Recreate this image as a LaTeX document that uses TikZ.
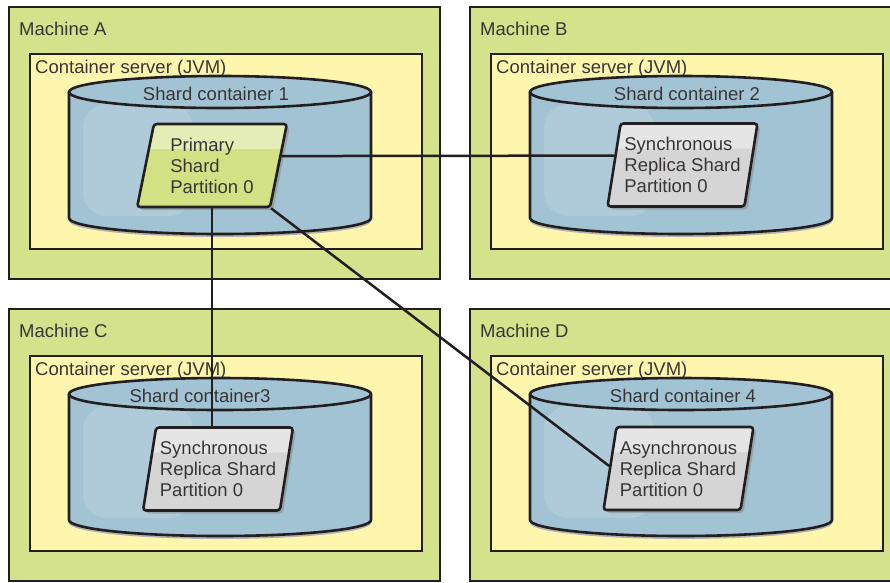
\documentclass[tikz,border=0pt]{standalone}
\usepackage{fontspec}
\setmainfont{Liberation Sans}
\usetikzlibrary{calc, shapes.geometric, shadows}
\definecolor{machinegreen}{HTML}{D3E28B}
\definecolor{serveryellow}{HTML}{FFF6AE}
\definecolor{cylblue}{HTML}{A2C3D4}
\definecolor{primgreen}{HTML}{D2E184}
\definecolor{replgray}{HTML}{D5D5D5}
\definecolor{edge}{HTML}{231F20}
\tikzset{
  machine/.style={draw=edge, fill=machinegreen, line width=2.8pt},
  server/.style={draw=edge, fill=serveryellow, line width=2.8pt},
  cyl/.style={draw=edge, fill=cylblue, line width=2.6pt},
  lbl/.style={font=\fontsize{18.5}{21}\selectfont, text=edge!90, inner sep=0pt},
  shard/.style={trapezium, trapezium left angle=78, trapezium right angle=102,
    trapezium stretches=true, minimum width=150pt, minimum height=83pt,
    draw=edge, line width=2.6pt, rounded corners=3pt, align=left, inner sep=2pt,
    font=\fontsize{18.5}{21}\selectfont, text=edge!90,
    drop shadow={shadow xshift=3pt, shadow yshift=-3pt, fill=black!45, opacity=0.6},
    path picture={\fill[white, opacity=0.4] (path picture bounding box.north west)
      rectangle ($(path picture bounding box.north east)+(0,-25pt)$);}},
  primary/.style={shard, fill=primgreen},
  replica/.style={shard, fill=replgray},
  link/.style={draw=edge, line width=2.5pt},
}
\begin{document}
\begin{tikzpicture}[x=1pt, y=-1pt]
  \useasboundingbox (0,0) rectangle (890,582);
  \clip (0,0) rectangle (890,582);
  \foreach \m/\dx/\dy/\cx/\sc in {A/0/0/216/{Shard container 1}, B/461/0/226/{Shard container 2},
      C/0/302/200/{Shard container3}, D/461/302/222/{Shard container 4}} {
    \begin{scope}[shift={(\dx,\dy)}]
      \draw[machine] (9,7) rectangle (440,279);
      \node[lbl, anchor=base west] (m\m) at (19,35) {Machine \m};
      \draw[server] (30,54) rectangle (422,249);
      \node[lbl, anchor=base west] (s\m) at (35,73) {Container server (JVM)};
      \fill[black!30] (220,221) ellipse[x radius=151pt, y radius=16pt];
      \filldraw[cyl] (69,92) -- (69,218) arc[start angle=180, end angle=360, x radius=151pt, y radius=16pt] -- (371,92);
      \fill[white, opacity=0.14, rounded corners=24pt] (83,104) rectangle (193,216);
      \filldraw[cyl] (220,92) ellipse[x radius=151pt, y radius=16pt];
      \node[lbl, anchor=base] (c\m) at (\cx,100) {\sc};
    \end{scope}
  }
  \node[primary] (pA) at (212,165.5) {Primary\\Shard\\Partition 0};
  \node[replica] (pB) at (682.5,165) {Synchronous\\Replica Shard\\Partition 0};
  \node[replica] (pC) at (218,469) {Synchronous\\Replica Shard\\Partition 0};
  \node[replica] (pD) at (678.5,468.5) {Asynchronous\\Replica Shard\\Partition 0};
  \draw[link] ($(pA.top right corner)!0.39!(pA.bottom right corner)$) -- ($(pB.top left corner)!0.39!(pB.bottom left corner)$);
  \draw[link] (pA.south) -- (pA.south |- pC.north);
  \draw[link] (pA.bottom right corner) -- ($(pD.top left corner)!0.47!(pD.bottom left corner)$);
\end{tikzpicture}
\end{document}
